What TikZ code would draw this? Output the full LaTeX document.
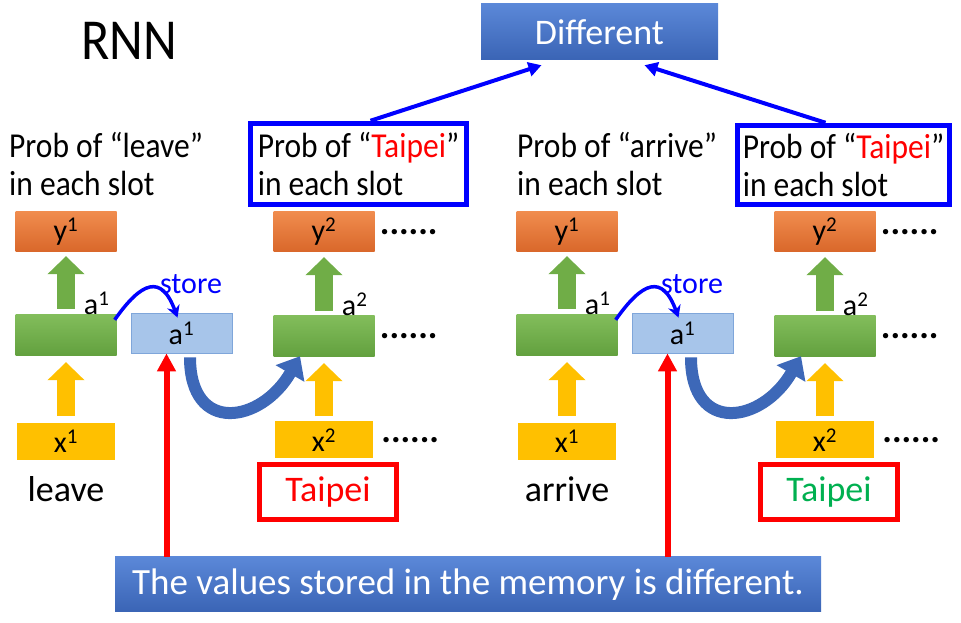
\documentclass[tikz,border=0pt]{standalone}
\usepackage{fontspec}
\setmainfont{Carlito}
\newfontfamily\narrowfont{Carlito}[FakeStretch=0.9]
\usetikzlibrary{arrows.meta,calc}

\definecolor{orangeT}{HTML}{F08C4E}
\definecolor{orangeB}{HTML}{D9672A}
\definecolor{greenT}{HTML}{82BD5B}
\definecolor{greenB}{HTML}{62A03E}
\definecolor{fatgreen}{HTML}{70AD47}
\definecolor{gold}{HTML}{FFC000}
\definecolor{memfill}{HTML}{A7C5EA}
\definecolor{memline}{HTML}{7FA6DA}
\definecolor{slideT}{HTML}{5B88D8}
\definecolor{slideB}{HTML}{3A64B5}
\definecolor{curve}{HTML}{3D68B8}
\definecolor{pureblue}{HTML}{0000FF}
\definecolor{pured}{HTML}{FF0000}
\definecolor{tpgreen}{HTML}{00B050}

\tikzset{
  cell/.style={minimum width=101pt,minimum height=40pt,inner sep=0pt,font=\fontsize{30}{32}\selectfont},
  outcell/.style={cell,top color=orangeT,bottom color=orangeB},
  hidcell/.style={cell,minimum height=41pt,top color=greenT,bottom color=greenB},
  incell/.style={cell,minimum width=98pt,minimum height=37pt,fill=gold},
  memcell/.style={cell,fill=memfill,draw=memline,line width=0.8pt},
  fatarrow/.style={line width=18pt,-{Triangle[width=36pt,length=18pt]}},
  moredots/.style={anchor=west,inner sep=0pt,font=\fontsize{36}{38}\selectfont\bfseries},
  word/.style={font=\fontsize{36}{38}\selectfont,inner sep=0pt},
  prob/.style={font=\narrowfont\fontsize{35}{38}\selectfont,align=left,inner sep=0pt},
  probbox/.style={prob,draw=pureblue,line width=5.5pt},
  banner/.style={top color=slideT,bottom color=slideB,text=white,inner sep=0pt,font=\fontsize{36}{38}\selectfont},
  bluearrow/.style={draw=pureblue,line width=4pt,-{Triangle[width=14pt,length=13pt]}},
  redarrow/.style={draw=pured,line width=6pt,-{Triangle[width=18pt,length=18pt]}},
}

\begin{document}
\begin{tikzpicture}[x=1pt,y=1pt]
\useasboundingbox (0,0) rectangle (961,623);
\node[font=\narrowfont\fontsize{58}{60}\selectfont,inner sep=0pt] (title) at (129,582) {RNN};
\node[banner,minimum width=237pt,minimum height=56pt] (diff) at (599.5,591) {Different};
\node[banner,minimum width=706pt,minimum height=55pt,font=\fontsize{37}{39}\selectfont] (note) at (468,38.5) {The values stored in the memory is different.};

% the two sentences
\foreach \i/\dx/\word/\wcol in {1/0/leave/pured,2/501/arrive/tpgreen}{
\begin{scope}[xshift=\dx pt]
\node[outcell] (ya-\i) at (66,391) {y\textsuperscript{1}};
\node[hidcell] (ha-\i) at (66,287.5) {};
\node[incell] (xa-\i) at (66,181.5) {x\textsuperscript{1}};
\node[memcell] (mem-\i) at (181.5,290) {a\textsuperscript{1}};
\node[outcell] (yb-\i) at (324,391) {y\textsuperscript{2}};
\node[hidcell] (hb-\i) at (324,286.5) {};
\node[incell] (xb-\i) at (324,183) {x\textsuperscript{2}};
\node[word,anchor=base] (word-\i) at (66,121) {\word};
\node[word,draw=pured,line width=5.5pt,text=\wcol,minimum width=137pt,minimum height=55pt] (city-\i) at (328,131) {Taipei};
\node[inner sep=0pt,text=pureblue,anchor=base,font=\fontsize{30}{32}\selectfont] (store-\i) at (191,329) {store};
\node[inner sep=0pt,anchor=base east,font=\fontsize{30}{32}\selectfont] (la-\i) at ([xshift=-7pt]ha-\i.north east) {a\textsuperscript{1}};
\node[inner sep=0pt,anchor=base east,font=\fontsize{30}{32}\selectfont] (lb-\i) at ([xshift=-7pt]hb-\i.north east) {a\textsuperscript{2}};
\node[moredots] (dy-\i) at ([xshift=5pt]yb-\i.east) {......};
\node[moredots] (dh-\i) at ([xshift=5pt]hb-\i.east) {......};
\node[moredots] (dx-\i) at ([xshift=8pt]xb-\i.east) {......};
% block arrows
\draw[fatarrow,fatgreen] ([yshift=6pt]ha-\i.north) -- ([yshift=-4pt]ya-\i.south);
\draw[fatarrow,gold] ([yshift=7pt]xa-\i.north) -- ([yshift=-6pt]ha-\i.south);
\draw[fatarrow,fatgreen] ([yshift=5pt]hb-\i.north) -- ([yshift=-5pt]yb-\i.south);
\draw[fatarrow,gold] ([yshift=5pt]xb-\i.north) -- ([yshift=-6pt]hb-\i.south);
% memory
\draw[pureblue,line width=3.5pt,-{Stealth[width=13pt,length=12pt]}] ([xshift=-2pt,yshift=-5pt]ha-\i.north east) to[out=55,in=110,looseness=1.9] ([xshift=-4pt,yshift=-5pt]mem-\i.north);
\draw[curve,line width=12pt,-{Triangle[width=32pt,length=20pt]}] ([xshift=8.5pt,yshift=-4pt]mem-\i.south) to[out=-90,in=-120,looseness=1.8] ([xshift=-24pt,yshift=1pt]hb-\i.south);
\coordinate (tip-\i) at ([xshift=-15pt]mem-\i.south);
\draw[redarrow] (tip-\i |- note.north) -- (tip-\i);
\end{scope}}

\node[prob,anchor=west] (pleave) at (9,459) {Prob of “leave”\\in each slot};
\node[probbox,minimum width=216pt,minimum height=81pt] (ptaipei-1) at (358.5,459) {Prob of “\textcolor{pured}{Taipei}”\\in each slot};
\node[prob,anchor=west] (parrive) at (517,459) {Prob of “arrive”\\in each slot};
\node[probbox,minimum width=212pt,minimum height=79pt] (ptaipei-2) at (843.5,458) {Prob of “\textcolor{pured}{Taipei}”\\in each slot};
\draw[bluearrow] ([xshift=12pt]ptaipei-1.north) -- ([xshift=-58pt,yshift=-5pt]diff.south);
\draw[bluearrow] ([xshift=-18pt]ptaipei-2.north) -- ([xshift=45pt,yshift=-5pt]diff.south);
\end{tikzpicture}
\end{document}
